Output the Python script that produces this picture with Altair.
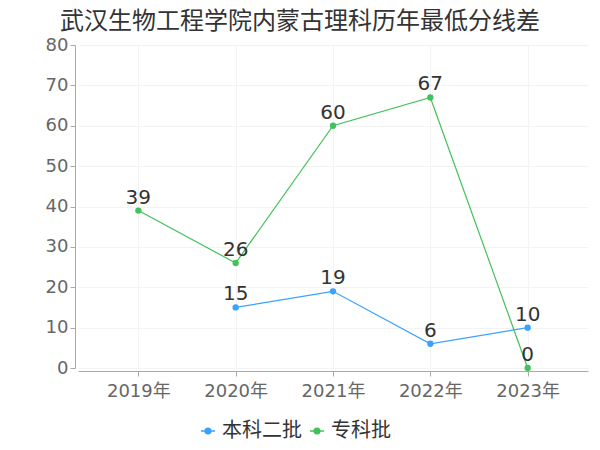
import altair as alt
import pandas as pd

years = ["2019年", "2020年", "2021年", "2022年", "2023年"]
series_names = ["本科二批", "专科批"]
benke = [None, 15, 19, 6, 10]
zhuanke = [39, 26, 60, 67, 0]
colors = ["#3ba1ff", "#43c15b"]

rows = []
for y, v in zip(years, benke):
    if v is not None:
        rows.append({"year": y, "series": series_names[0], "value": v})
for y, v in zip(years, zhuanke):
    if v is not None:
        rows.append({"year": y, "series": series_names[1], "value": v})
df = pd.DataFrame(rows)

FONT = "DejaVu Sans, Noto Sans CJK SC"

x = alt.X("year:N", sort=years, title=None,
          scale=alt.Scale(type="point", padding=0.62),
          axis=alt.Axis(labelAngle=0, labelFontSize=18, labelColor="#666666",
                        labelPadding=6, domainColor="#aaaaaa", tickColor="#aaaaaa",
                        gridColor="#f3f3f3", grid=True, offset=3))
y = alt.Y("value:Q", title=None,
          scale=alt.Scale(domain=[0, 80]),
          axis=alt.Axis(values=list(range(0, 81, 10)), labelFontSize=18, labelColor="#666666",
                        domainColor="#aaaaaa", tickColor="#aaaaaa", gridColor="#f3f3f3",
                        offset=3))
color = alt.Color("series:N", sort=series_names,
                  scale=alt.Scale(domain=series_names, range=colors),
                  legend=alt.Legend(title=None, orient="none", direction="horizontal",
                                    legendX=120, legendY=376,
                                    labelFontSize=20, labelColor="#333333",
                                    symbolType="M-1,0H1M0.4,0A0.4,0.4 0 1 1 -0.4,0A0.4,0.4 0 1 1 0.4,0",
                                    symbolSize=200, symbolStrokeWidth=1.5,
                                    columnPadding=4))

base = alt.Chart(df).encode(x=x, y=y, color=color)
line = base.mark_line(strokeWidth=1.2)
pts = base.mark_point(filled=True, size=40, opacity=1)
txt = base.mark_text(dy=-13, fontSize=20, color="#333333", font=FONT).encode(
    text="value:Q", color=alt.value("#333333"))

chart = alt.layer(line, pts, txt).properties(
    width=510, height=323,
    autosize="none",
    padding={"left": 70, "top": 37, "right": 4, "bottom": 80},
    title=alt.TitleParams("武汉生物工程学院内蒙古理科历年最低分线差", fontSize=24,
                          fontWeight="normal", color="#333333", offset=12, dy=10, dx=-33,
                          anchor="middle"),
).configure(font=FONT).configure_view(stroke=None)

chart.save("out.html", embed_options={"renderer": "svg", "actions": False})
